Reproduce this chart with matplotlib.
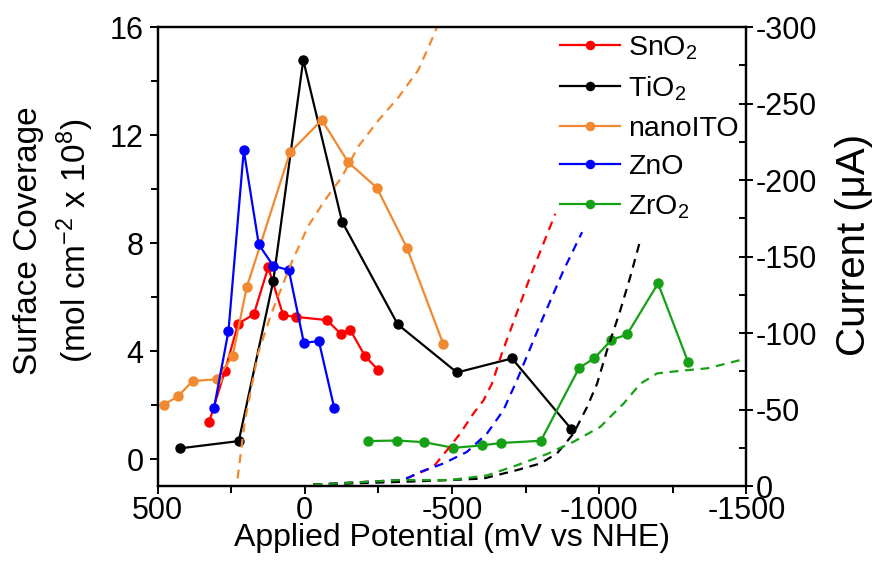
import matplotlib
matplotlib.use("Agg")
import matplotlib.pyplot as plt
from matplotlib.ticker import MultipleLocator

plt.rcParams["font.family"] = ["Liberation Sans", "DejaVu Sans"]
plt.rcParams["mathtext.default"] = "regular"
plt.rcParams["axes.unicode_minus"] = False

# surface coverage (left axis), potential in mV vs NHE
sno2_x = [325, 271, 226, 173, 124, 73, 31, -75, -122, -154, -205, -250]
sno2_y = [1.36, 3.27, 5.02, 5.36, 7.1, 5.33, 5.27, 5.15, 4.65, 4.8, 3.81, 3.3]

tio2_x = [424, 224, 107, 5, -127, -316, -517, -704, -905]
tio2_y = [0.4, 0.67, 6.59, 14.78, 8.79, 4.99, 3.21, 3.73, 1.12]

ito_x = [478, 430, 381, 299, 245, 197, 50, -58, -148, -245, -347, -471]
ito_y = [2.02, 2.33, 2.89, 2.96, 3.81, 6.36, 11.36, 12.56, 10.99, 10.05, 7.83, 4.25]

zno_x = [308, 259, 207, 156, 107, 54, 3, -48, -100]
zno_y = [1.9, 4.74, 11.44, 7.95, 7.16, 7.0, 4.31, 4.37, 1.91]

zro2_x = [-216, -313, -405, -505, -602, -667, -802, -932, -983, -1041, -1095, -1200, -1302]
zro2_y = [0.67, 0.69, 0.63, 0.42, 0.51, 0.6, 0.68, 3.38, 3.73, 4.41, 4.62, 6.51, 3.6]

# current traces (right axis, uA)
ito_iv_x = [228, 203, 158, 113, 45, -12, -69, -126, -182, -250, -318, -386, -432, -449]
ito_iv_y = [-5, -43, -87, -113, -146, -170, -187, -202, -222, -239, -254, -272, -292, -300]

sno2_iv_x = [-29, -324, -358, -437, -483, -528, -573, -607, -636, -670, -766, -851]
sno2_iv_y = [-1, -4, -6, -12.6, -23.5, -34.4, -47.5, -56, -67, -87, -137, -178]

zno_iv_x = [-29, -335, -392, -471, -551, -619, -675, -721, -800, -879, -942]
zno_iv_y = [-1, -4, -9.3, -14.8, -22.4, -34.4, -49.7, -69.3, -106, -141, -166]

tio2_iv_x = [-29, -358, -494, -607, -721, -800, -857, -913, -959, -993, -1027, -1072, -1106, -1140]
tio2_iv_y = [-1, -3, -4, -5, -10.5, -14.8, -21.4, -34.4, -51.8, -67, -89, -115, -137, -161]

zro2_iv_x = [-29, -324, -494, -619, -721, -823, -913, -1004, -1083, -1140, -1197, -1276, -1367, -1502]
zro2_iv_y = [-1, -4, -4, -7, -13.7, -21, -29, -38.8, -54, -67, -73.7, -75.4, -77, -83.5]

red = "#ff0000"
black = "#000000"
orange = "#f0892f"
blue = "#0000ff"
green = "#16a016"

fig = plt.figure(figsize=(8.75, 5.64), dpi=100)
ax = fig.add_axes([0.180, 0.138, 0.673, 0.814])
ax2 = ax.twinx()

kw = dict(marker="o", markersize=6.5, linewidth=1.6)
ax.plot(sno2_x, sno2_y, color=red, label="SnO$_2$", **kw)
ax.plot(tio2_x, tio2_y, color=black, label="TiO$_2$", **kw)
ax.plot(ito_x, ito_y, color=orange, label="nanoITO", **kw)
ax.plot(zno_x, zno_y, color=blue, label="ZnO", **kw)
ax.plot(zro2_x, zro2_y, color=green, label="ZrO$_2$", **kw)

dkw = dict(linestyle=(0, (4, 3)), linewidth=1.6)
ax2.plot(ito_iv_x, ito_iv_y, color=orange, **dkw)
ax2.plot(sno2_iv_x, sno2_iv_y, color=red, **dkw)
ax2.plot(zno_iv_x, zno_iv_y, color=blue, **dkw)
ax2.plot(tio2_iv_x, tio2_iv_y, color=black, **dkw)
ax2.plot(zro2_iv_x, zro2_iv_y, color=green, **dkw)

ax.set_xlim(500, -1500)
ax.set_ylim(-1, 16)
ax2.set_ylim(0, -300)

ax.xaxis.set_major_locator(MultipleLocator(500))
ax.xaxis.set_minor_locator(MultipleLocator(250))
ax.yaxis.set_major_locator(MultipleLocator(4))
ax.yaxis.set_minor_locator(MultipleLocator(2))
ax2.yaxis.set_major_locator(MultipleLocator(50))
ax2.yaxis.set_minor_locator(MultipleLocator(25))

for a in (ax, ax2):
    for s in a.spines.values():
        s.set_linewidth(1.6)
ax.tick_params(axis="both", which="both", direction="out", labelsize=22, width=1.4)
ax.tick_params(which="major", length=6)
ax.tick_params(which="minor", length=5)
ax.tick_params(axis="y", pad=4)
ax.tick_params(axis="x", pad=1)
ax2.tick_params(axis="y", which="major", direction="inout", length=10, width=1.4, labelsize=22, pad=2)
ax2.tick_params(axis="y", which="minor", direction="in", length=5, width=1.4)

ax.set_xlabel("Applied Potential (mV vs NHE)", fontsize=23, labelpad=-2)
ax.set_ylabel("Surface Coverage\n(mol cm$^{-2}$ x 10$^{8}$)", fontsize=24, linespacing=1.35)
ax.yaxis.set_label_coords(-0.104, 0.535)
ax2.set_ylabel("Current (\u03bcA)", fontsize=29)
ax2.yaxis.set_label_coords(1.150, 0.525)

ax.legend(loc="upper left", bbox_to_anchor=(560 / 875, 1 - 34 / 564), bbox_transform=fig.transFigure,
          frameon=False, fontsize=20.5, handlelength=2.1, handletextpad=0.3, labelspacing=0.45,
          borderpad=0, borderaxespad=0, markerscale=0.9)

fig.savefig("out.png", dpi=100)
